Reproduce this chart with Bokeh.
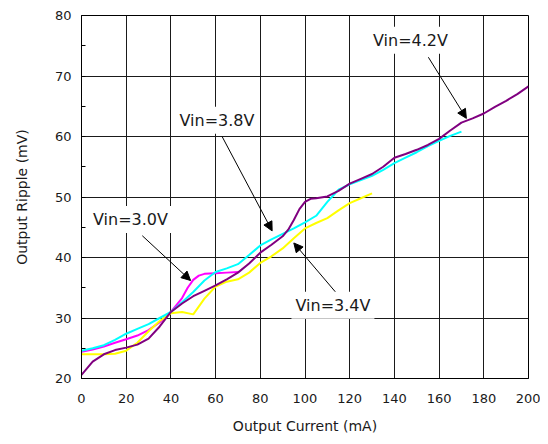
from bokeh.plotting import figure
from bokeh.models import Label, Arrow, NormalHead, SingleIntervalTicker, Range1d
from bokeh.embed import file_html
from bokeh.resources import INLINE

# ---- data ----
x_42 = [0, 5, 10, 15, 20, 25, 30, 35, 40, 45, 50, 55, 60, 65, 70, 75, 80, 85, 90, 92.5, 95, 97.5, 100, 102.5,
        105, 110, 115, 120, 125, 130, 135, 140, 145, 150, 155, 160, 165, 170, 175, 180, 185, 190, 195, 200]
y_42 = [20.6, 22.8, 24.0, 24.7, 25.1, 25.6, 26.6, 28.6, 31.0, 32.4, 33.6, 34.5, 35.4, 36.4, 37.5, 39.0, 40.8,
        42.1, 43.5, 44.6, 46.2, 48.0, 49.2, 49.7, 49.8, 50.1, 51.0, 52.2, 53.0, 53.8, 55.0, 56.5, 57.1, 57.8,
        58.6, 59.6, 61.0, 62.3, 63.0, 63.8, 64.9, 65.9, 67.0, 68.3]

x_38 = [0, 5, 10, 15, 20, 25, 30, 35, 40, 45, 50, 55, 60, 65, 70, 75, 80, 85, 90, 95, 100,
        105, 110, 115, 120, 125, 130, 135, 140, 145, 150, 155, 160, 165, 170]
y_38 = [24.6, 25.0, 25.5, 26.4, 27.4, 28.2, 29.0, 30.0, 31.0, 32.6, 34.3, 36.2, 37.6, 38.2, 38.9, 40.4, 42.0,
        43.0, 43.9, 44.8, 45.8, 46.9, 49.2, 51.2, 52.1, 52.8, 53.5, 54.5, 55.6, 56.5, 57.4, 58.4, 59.3, 60.1, 60.8]

x_30 = [0, 5, 10, 15, 20, 25, 30, 35, 40, 45, 47.5, 50, 52.5, 55, 60, 65, 70]
y_30 = [24.4, 24.8, 25.3, 25.9, 26.5, 27.1, 28.0, 29.3, 31.0, 33.3, 35.0, 36.3, 37.0, 37.3, 37.4, 37.5, 37.6]

x_34 = [0, 5, 10, 15, 20, 25, 30, 35, 40, 45, 50, 55, 60, 65, 70, 75, 80, 85, 90, 95, 100,
        105, 110, 115, 120, 125, 130]
y_34 = [24.0, 24.0, 24.0, 24.1, 24.6, 25.9, 27.8, 29.5, 30.8, 31.0, 30.6, 33.2, 35.2, 36.0, 36.4, 37.5, 39.1,
        40.2, 41.5, 43.2, 44.8, 45.7, 46.5, 47.8, 49.0, 49.8, 50.6]

x_ticks_interval = 20
y_ticks_interval = 10

FONT = "DejaVu Sans"

p = figure(width=540, height=436, output_backend="svg", toolbar_location=None,
           x_range=Range1d(0, 200), y_range=Range1d(20, 80),
           min_border_left=81, min_border_right=12, min_border_top=15, min_border_bottom=56)
p.background_fill_color = "white"
p.border_fill_color = "white"
p.outline_line_color = "black"
p.outline_line_width = 1

xt = SingleIntervalTicker(interval=x_ticks_interval, num_minor_ticks=0)
yt = SingleIntervalTicker(interval=y_ticks_interval, num_minor_ticks=2)
p.xaxis[0].ticker = xt
p.yaxis[0].ticker = yt
p.xgrid[0].ticker = xt
p.ygrid[0].ticker = yt
for g in (p.xgrid[0], p.ygrid[0]):
    g.grid_line_color = "#1a1a1a"
    g.grid_line_width = 1
    g.grid_line_alpha = 1

for ax in (p.xaxis[0], p.yaxis[0]):
    ax.axis_line_color = "black"
    ax.major_tick_in = 0
    ax.major_tick_out = 0
    ax.minor_tick_out = 0
    ax.major_label_text_font = FONT
    ax.major_label_text_font_size = "13px"
    ax.major_label_text_color = "#1a1a1a"
    ax.axis_label_text_font = FONT
    ax.axis_label_text_font_size = "14px"
    ax.axis_label_text_font_style = "normal"
    ax.axis_label_text_color = "#1a1a1a"
p.yaxis[0].minor_tick_in = 4
p.yaxis[0].minor_tick_line_color = "black"
p.xaxis[0].major_label_standoff = 15
p.yaxis[0].major_label_standoff = 10
p.xaxis[0].axis_label = "Output Current (mA)"
p.yaxis[0].axis_label = "Output Ripple (mV)"
p.xaxis[0].axis_label_standoff = 12
p.yaxis[0].axis_label_standoff = 22

p.line(x_30, y_30, line_color="#ff00ff", line_width=2)
p.line(x_34, y_34, line_color="#ffff00", line_width=2)
p.line(x_38, y_38, line_color="#00ffff", line_width=2)
p.line(x_42, y_42, line_color="#800080", line_width=2)

annotations = [
    ("Vin=3.0V", 21.9, 46.3, (27.2, 43.6), (48.8, 36.2)),
    ("Vin=3.8V", 60.6, 62.7, (62.9, 60.0), (85.3, 44.4)),
    ("Vin=4.2V", 147.2, 75.9, (155.2, 73.1), (172.2, 63.0)),
    ("Vin=3.4V", 112.5, 32.1, (114.1, 34.1), (95.0, 42.4)),
]
for txt, lx, ly, (sx, sy), (ex, ey) in annotations:
    p.add_layout(Arrow(x_start=sx, y_start=sy, x_end=ex, y_end=ey, line_color="black", line_width=1,
                       end=NormalHead(size=9, fill_color="black", line_color="black", line_width=1)))
    p.add_layout(Label(x=lx, y=ly, text=txt, text_align="center", text_baseline="middle",
                       text_font=FONT, text_font_size="16px", text_color="#1a1a1a",
                       background_fill_color="white", background_fill_alpha=1.0, padding=4))

open("out.html", "w").write(file_html(p, INLINE))
